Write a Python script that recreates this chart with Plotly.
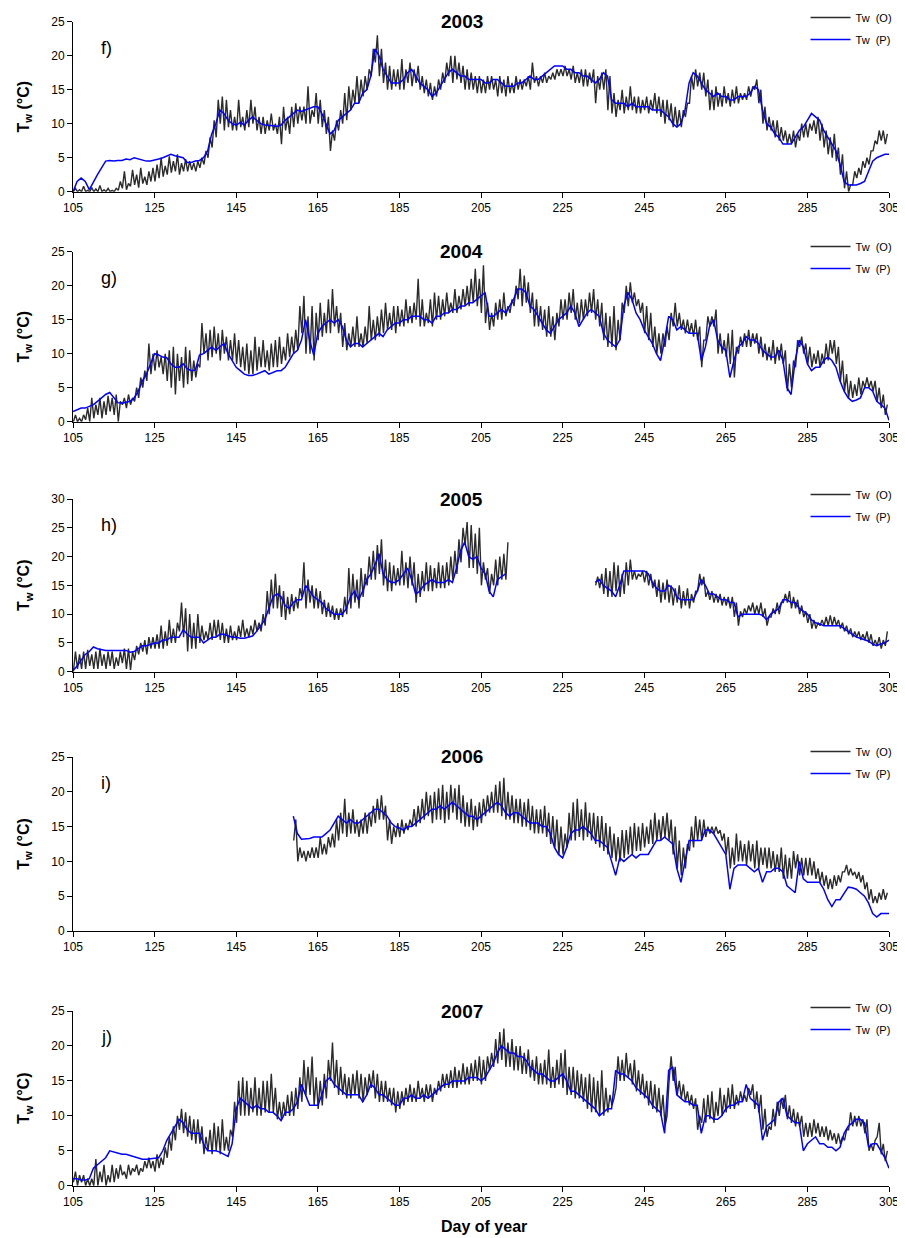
import plotly.graph_objects as go

# ---------------- data ----------------
YEARS = ["2003", "2004", "2005", "2006", "2007"]
PANEL_LABELS = ["f)", "g)", "h)", "i)", "j)"]
X_TICKS = [105, 125, 145, 165, 185, 205, 225, 245, 265, 285, 305]
Y_TICKS_25 = [0, 5, 10, 15, 20, 25]
Y_TICKS_30 = [0, 5, 10, 15, 20, 25, 30]
SERIES_NAMES = ["Tw\u00a0\u00a0(O)", "Tw\u00a0\u00a0(P)"]

# observed: daily minimum / maximum, predicted: daily values
obs_lo_2003 = [0,0,0,0,0,0,0,0,0,0,
               0,0.2,0.5,0.3,0.8,1,0.6,1.2,1,1.5,
               1.5,2,2.2,2.5,2.8,3,2.5,3,3,3.2,
               3,3.5,4,5,6.5,8,10,9,9.5,9,
               9,9.5,9,9.5,10,9,8.5,8.5,9,9,
               8.5,7,9,8.5,9.5,10,10.5,10,10,11,
               10,9.5,8.5,6,7.5,9,10,10.5,12,13,
               13,14,15,17,19,17,16,15,15,15.5,
               15,15,16,15.5,16,15,14.5,14,13.5,14,
               15,16,17,16,16.5,16,15,15,15,14.5,
               14.5,14.5,15,15,14,14.5,14,14.5,14.5,15,
               15,15.5,15,16,15.5,16,16,16.5,16.5,17,
               17,17,16.5,16,16,15.5,15.5,16,13,15,
               15,12,11.5,11,12,11.5,12,12,11.5,11.5,
               12,11.5,12,11.5,11,10,10.5,9.5,9.5,9.5,
               11,13,15,15.5,15,14,12,12,12.5,12.5,
               13,12.5,13,13,13.5,13.5,14,15,13,10,
               9,9,8,7.5,7.5,7,7,6.5,7.5,8,
               8,9,8.5,7.5,6.5,5.5,5,4.5,2.5,0.5,
               0,1,2,2.5,3.5,4,6,7,7.5,7]
obs_hi_2003 = [0.5,0.3,0.8,0.2,0.6,0.4,0.9,0.3,0.5,0.2,
               0.5,1.5,3,1.2,3.2,2.5,3.5,2.2,3,3.5,
               4,5,3.8,5.2,4.5,5.5,4.2,4.8,4.5,4.2,
               4.5,5,6,8,10.5,13.5,14,13.5,12,11,
               13.5,11,12,13.5,12.5,11,11,10.5,11.5,10,
               11,12.5,11,12.5,13,12.5,12.5,15.5,12,14.5,
               13.5,12,11,9,10.5,12,14.5,15.5,15,17,
               16.5,17,18,21,23,21,19,18.5,18,18,
               19.5,18,19,18,18.5,17,16.5,16,15.5,16.5,
               17.5,19,20,20,19,18.5,18,17.5,17,17,
               16.5,17,17,16.5,17,16.5,17,16,17,16.5,
               16.5,17,19,17,17,17.5,17,17.5,18,18,
               18.5,18,18.5,17.5,18,18,17.5,18,17,17.5,
               18,17,14.5,13.5,15,14,15.5,14,14,13.5,
               14,13.5,14.5,14,13.5,13.5,13,12.5,12,12,
               13,17,18,17.5,17.5,16.5,15,15.5,14.5,15.5,
               14.5,15,15.5,14.5,14.5,15.5,15.5,16.5,15,12.5,
               11,10.5,10.5,9.5,9,8.5,9,8.5,10,10,
               10,10.5,11,10,9,8,8.5,6.5,5.5,3,
               1,3,3.5,4.5,5,6,7.5,9,9,8.5]
pred_2003 = [0,1.5,2,1.5,0.3,1.5,2.5,3.5,4.5,4.6,
             4.5,4.6,4.6,4.8,4.7,5,4.8,4.6,4.5,4.5,
             4.6,4.8,5,5.3,5.5,5.3,5.2,5,4.3,4.3,
             4.5,4.6,5,6,8.5,10,12,11.5,10.5,10,
             9.8,10.2,9.8,10.5,11,10.5,10,9.8,9.8,9.7,
             9.6,9.8,10.5,11,11.5,12,11.8,12,12.2,12.5,
             12.5,11.5,10,8.5,9,10.5,11,11.5,12,13,
             13,14.5,15,17,21,20,18,17,16,16,
             16,16.5,17.5,18,17,16,15.5,15,14,14.5,
             15.5,16.5,17.5,18,17.5,17,17,16.5,16.5,16.5,
             16.5,16,16,16.5,16.5,16,15.5,15.5,15.5,16,
             16,16.5,17,16.5,16.5,17,17.5,18,18.5,18.5,
             18.5,18,18,17.5,17.5,17,17,16.5,16,16.5,
             17.5,17,13.5,13,13,13,12.5,13,12.5,12.5,
             12.5,12.5,12,12,12,11.5,11,10,9.5,10,
             12,16,17.5,17,16,15,14.5,14,14.5,14,
             14,13.5,13.5,14,14,14,14.5,15.5,15,12,
             10,9.5,8.5,8,7,7,7,8,9,9.5,
             10.5,11.5,11,10.5,9,8,7,6,4,1.5,
             1,1,1,1.2,1.5,3,4.5,5,5.2,5.5,5.5]

obs_lo_2004 = [0,0,0,0.3,0,0.5,1,0.5,1,1.5,
               1,0,2.5,2,2.5,3,3.5,5,6,7,
               7.5,8,7,6,5,4,6,5,5.5,6,
               6.5,8,10,9,9.5,10,9,10,9,9,
               8.5,8,7.5,7,7,7.5,8,8,7.5,8,
               8,8.5,9,9.5,10,10.5,13,10,10,9,
               12,12.5,13,13,14,13,11,10.5,11,11,
               11,11,11.5,12,12,12.5,13,13.5,13.5,13,
               14,14,14.5,14.5,15,14,14,14.5,14,15,
               15,15.5,16,16,16,16.5,17,17,17.5,17,
               16,14.5,13.5,14,15,15,15.5,16,17,18,
               17,17.5,16,14,14,13.5,12.5,12.5,12,14,
               15,15,16,15,14.5,15,15.5,16,15,14,
               12,11,11,10.5,12,16,17,17.5,17,16,
               13,12,11,10,10,11,12,14,14,13.5,
               13,13,12.5,12,8,12,14,14,10,10,
               9.5,8.5,6.5,10,11,11,11,11.5,10,9.5,
               9,9,8.5,9,8.5,4.5,5,8,11,10,
               8.5,8,8.5,8,8.5,9,10,8.5,6,4.5,
               3.5,3.5,3.8,4,5,5,4.5,3,2,1]
obs_hi_2004 = [1,0.5,1,2,3.5,2.5,3.5,3,3.8,3.5,
               4,3,3.5,4,3.5,5,6.5,7.5,11.5,10,
               10.5,9.5,10,10.5,11,10,9.5,11,10.5,9,
               8.5,14.5,13,13.5,14,13,13.5,12.5,12,13,
               12,11,11.5,10.5,12.5,11,12,10.5,11.5,12,
               12.5,11,13,12.5,13.5,17,18.5,15.5,17,16,
               17.5,16,18,19.5,17,16,14.5,13,14,15.5,
               13,14,17,15,15.5,16.5,17.5,16,17,17,
               16.5,18,17,17.5,21,18,16,18,19,18.5,
               18,19,17.5,19.5,18.5,19.5,20,21,22.5,21,
               23,17.5,16,17.5,18,19,17,18,20,22.5,
               21.5,20.5,19,18,17,16.5,17,15.5,16,18,
               18,19,19.5,17.5,18,18,19,19.5,18,17.5,
               16,15.5,17,15,17.5,20,20.5,19,18,17.5,
               17,16,14,13,13,14,16,17.5,16,15,
               15,14.5,15,14,12,15.5,15.5,16.5,13,12,
               13,13.5,11,12.5,13,13.5,13,13,12.5,11.5,
               11,12,11,11.5,10.5,8.5,9,12,12.5,11.5,
               11,10,10.5,10,11.5,12,12,11,9,7,
               6,5.5,6.5,6,6.5,6,6,5,4,2.5]
pred_2004 = [1.5,1.7,2,2,2.2,2.5,3,3.5,4,4.3,
             3.5,2.8,2.7,2.8,3,3.5,4.5,6,7,8.5,
             10,9.8,9.5,9.4,8.5,8,8,8.5,7.8,7.5,
             7.6,9.8,10,10.5,11,10.5,11,11.5,10,9,
             8,7.5,7,6.8,6.8,7,7.2,7.5,7,7.2,
             7.5,7.5,8,9,10,10.5,12,15,12,9.8,
             13,14,14.5,15,14.5,15,14,12,11,11.5,
             11.5,11,11.5,12,12.5,13,12.5,13.5,14,14.5,
             14.5,15,15,15.5,15.5,15.5,15,15,14.5,15.5,
             15.5,16,16,16.5,16.5,17,17,17.5,17.5,18,
             18.5,19,15.5,15.5,16,16.5,16,17,18,19.5,
             19.5,19,17,16.5,15.5,14.5,13.5,13,14,15,
             15.5,16,17,16,14,15,16,16.5,16,15.5,
             13,12,11.5,11,12,17,19,18,16,15,
             13.5,12.5,11.5,10,9,12,15.5,15,13.5,14,
             13.5,13,13,13,9,11,14,15,12,11,
             10.5,6.5,9,11,11.5,12.5,12,12,11.5,10.5,
             10,9.5,9.5,10.5,9,5,4,9,12,11,
             8.5,7.5,8,8,9,9.5,9,8,6,4.5,
             3.5,3,3.2,3.5,5,5,4.5,3,2.5,2,0.2]

# 2005: record interrupted between day 211 and day 233
obs_lo_2005a = [0,0.5,0.5,0.5,1,0.5,0.5,1,0.5,1,
                0.5,1,1.5,0.5,0.3,2,3,3.5,3,4,
                4,4,4,4.5,5,5,7,6,3.5,4,
                4,5,5.5,5.5,5.5,6,5.5,5,5,5.5,
                5.5,6,6,6,6.5,7,7,8,10,11,
                11,9.5,9,10,10.5,11,13,11,12,11,
                11,10,9.5,9.5,9,9,9.5,10,11,12,
                11,13,15,16,16,17,15,14,14,15,
                15,15,14.5,15,12,13,14,14,14,14.5,
                14.5,14.5,15,16,17,19,22,18,18,17,
                15,16,13.5,15,15,16,16]
obs_hi_2005a = [3.5,3,3.5,3.8,3,3.5,4,3,3.5,3.5,
                2.5,3.5,4,4,3.5,4.5,5,5.5,6,6,
                6.5,8,7,9,7.5,8.5,12,11,10,8.5,
                10,8,7,8.5,9,9,8.5,7.5,8,7,
                8,9,7.5,8,9,8.5,10,14,16,17,
                15,14,13,13.5,13,14.5,19,16,15,14.5,
                14,12.5,12,11.5,11,11,13,18,17,16,
                18,17,20,21,22,23,19.5,19,18.5,18,
                21,19,20,19,17,17.5,19,18.5,18,19,
                18.5,19,20,21,23,25,26,25.5,24,25,
                19,18,17,19.5,20,20.5,22.5]
obs_lo_2005b = [15,14.5,
                13.5,13,13,14,13,13.5,15,16,16,16.5,
                15.5,15,14.5,13,12,12.5,12,11.5,12,11,
                11.5,11,12,14,15,13,12.5,12,12,11.5,
                11.5,11,9.5,8,9.5,10,10.5,10,10,9.5,
                8,9.5,10,10,12,12,11,11,10,9.5,
                8.5,7.5,7.5,8,8,8,8,8,7.5,7,
                6.5,6,6,5.5,5.5,5,4.5,4.5,4,4.5]
obs_hi_2005b = [16.5,17,
                18,17.5,19,18.5,17,19,19.5,17.5,17,17.5,
                17.5,17,16,16,15.5,16,15,14.5,15,14,
                14.5,13.5,14,17,16.5,14,14,13.5,13.5,13,
                13,13,12,10.5,11,11.5,12,11.5,12,11,
                9.5,11,12,12,13.5,14,13,12.5,11.5,10.5,
                10,9,8.5,9,9.5,9.8,9.5,9,8.5,8,
                7.5,7,7,6.5,7,6.5,5.5,6,5.5,7]
pred_2005a = [0.2,1,2,3,3.5,4.3,4,3.8,3.7,3.7,
              3.7,3.8,3.8,3.7,3.4,3.5,4,4.5,4.5,4.8,
              5,5,5.5,5.5,6,6,6,7.3,6.5,6,
              6,6,5,5.5,6,6,6.5,6.5,6.2,6,
              6,5.8,5.8,6,6.2,7,8,9,11,13,
              13.5,13,11.5,11,12,12.5,12.5,15,14,13,
              12.5,12,11,10.5,10,10,10,11,13,14,
              12.5,14,16,17,18.5,20.5,17,16,15.5,15.5,
              16,17,18,16,13.5,14,15,15.5,16,15.5,
              15.5,15.5,16,15.5,18,21,22.5,20,19.5,20,
              18,17,14,13,16,16.5,17]
pred_2005b = [15.5,16,15,14.5,14,13,15,17.5,17.5,17.5,17.5,17.5,
              17.5,17,15.5,14.5,14,14,15,14.5,13,12.5,
              12.5,12.5,12.5,14,16,15,13.5,13.5,13,12.5,
              12.5,12,12,9.5,10,10,10,10,10,9.8,
              9,10,10.5,11,12.5,12.5,12,12,11,10.5,
              10,9,8.5,8.3,8,8,8,8,8,7.5,
              7,6.5,6,5.8,5.5,5.3,4.8,4.5,4.8,5,5.5]

# 2006: record starts at day 159
obs_lo_2006 = [13,10,10.5,10,10.5,10.5,
               10.5,11,11,12,12,13,14,13.5,14,14,
               13.5,14,14,15,15.5,16,16,13,12.5,13.5,
               13.5,14,14.5,15,15,15.5,16,16.5,15.5,16,
               16,15.5,16,17,16,15.5,15,15,14.5,15,
               15.5,16.5,17,17,17,16.5,16,16,15.5,15.5,
               15,15,14.5,14,14,14,13.5,12.5,12,11,
               11,12,13,13,13.5,13,13.5,13,12.5,12,
               11.5,11,10.5,10,10,10.5,11,11,11.5,11.5,
               12,12.5,12.5,13,13,13.5,13,11,9,8,
               9,11.5,12,13,13,13.5,14,14,14,13,
               11,9,9.5,10,10,9.5,10,9,9,9.5,
               9,9,8.5,8.5,7.5,7.5,7.5,9,8,8,
               8,8,7.5,7,6.5,6,6,6.5,7,8.5,
               8,8,7.5,7,6,4.5,4,4,4.5,4.5]
obs_hi_2006 = [16,12,11.5,11.5,12,12,
               13.5,12.5,13.5,14,16,17,19,17,17.5,16,
               16,17,17,18,19,19.5,18,16,15,15.5,
               16,15.5,16,17.5,18,19,20,19.5,20,20.5,
               21,20,21,20.5,21,19.5,18.5,19,18,18.5,
               19,19.5,20,21,21.5,22,20,19.5,19,19,
               18.5,19,18,17.5,17.5,18,17,16.5,16,15,
               14,17,18.5,19,17.5,18.5,17,17,16.5,16.5,
               15.5,15,14,13.5,14.5,14.5,15,15.5,15,15.5,
               15,16,17,16,16.5,17,16,15,13,12,
               12.5,15,16.5,16,16,15,15,15,14.5,14,
               13.5,12,14,13,12.5,13,12.5,13,12,12,
               12,11.5,11,12,11,10.5,11.5,11,10.5,10.5,
               10.5,10,9,8.5,8,7.5,8,8,8.5,9.5,
               9,8.5,8.5,8,7,6,5,5.5,6,5.5]
pred_2006 = [16.5,14,13.2,13.2,13.3,13.5,
             13.5,13.5,14,14.5,15.5,16.5,16,15.5,16,15.5,
             15.5,16,16.5,17,17.5,17.5,17,16.5,15.5,15,
             14.8,14.5,15,15,15.5,16,16.5,17,17.5,17.5,
             18,17.5,18,18.5,18,17.5,17,16.5,16.5,16,
             16.5,17,17.5,18,18.5,18,17,16.5,17,17,
             16.5,16,15.5,15.5,15.5,15,15,14,12,11,
             10.5,12,14,14.5,14.5,15,14.5,14,13,13,
             12.5,12,10,8,10.5,10,10.5,11,10.5,11,
             11,11,12,13,13,13.5,13,12.5,9,7,
             10,13,13,13,13,14.5,14.5,14,13,12,
             11,6,9,9.5,9.5,9.5,9,8.5,9,7,
             8.5,8.5,9,9,8.5,6.5,6,5.5,10,7.5,
             7,7,7,7,6,4.5,3.5,4.5,4.5,5.5,
             6.3,6.2,6,5.5,5,4,2.5,2,2.5,2.5,2.5]

obs_lo_2007 = [0.5,0,0.5,0,0,0,0,0.5,0,0.5,
               0.5,1,1.5,1,1.5,2,1.5,2,2.5,2.5,
               2,2.5,3,4,5,6.5,8,7.5,7,6.5,
               6,6,4.5,5,4.5,5,4.5,5,5,7,
               9,10,10,10,10.5,10,10,10.5,10.5,10.5,
               9.5,9.5,10,10,10,11,12,13,13,11.5,
               11,11.5,12.5,15,14,13,13,12.5,12.5,13,
               12.5,12,13,14,12.5,12,12,12,11.5,10.5,
               11,11.5,12,12,12,12.5,12,12.5,12,13,
               13.5,14,14,14,14,14.5,14.5,14.5,15,15,
               14.5,15,16.5,17,17.5,18,17,17,16.5,16.5,
               16,16,15.5,15,14.5,14.5,14.5,14,14,14.5,
               14,13,13,12.5,12.5,12,11,10.5,10.5,10,
               10,10.5,11.5,14,15,15,15.5,14.5,13.5,13,
               12.5,11.5,11,10.5,10,8.5,15,15,13,12.5,
               12,11.5,11,8,9,9,9.5,9,10,10,
               10.5,11,11,11.5,12,12,13,11,10.5,8,
               7,8,8.5,10,11,9.5,9,8.5,8.5,7,
               7,7,7.5,7,7,6.5,6.5,6,6,6.5,
               8,8.5,8.5,8.5,7.5,5,5,7,4.5,3.5]
obs_hi_2007 = [2,1.5,1.5,1,1,3.8,2,3,1.5,3,
               2.5,3,2,3,2.5,3,2.5,3.5,4,3.5,
               4.5,4,5.5,7,8.5,10,11,10.5,10,9.5,
               9.5,8.5,7,8,9,8.5,9.5,7,8,12,
               15,15.5,15,14,15.5,14,15,15,16,14,
               12,12,13,13.5,14,15.5,18,17,18.5,15.5,
               15,16,18,20.5,18,17,16,15.5,16,16.5,
               16,15.5,16,16.5,16,15,15,14,14,13.5,
               13.5,14,14.5,14,15,14,14.5,14.5,14,15,
               16,16,16.5,17,16.5,17.5,17,17.5,18,18.5,
               18,18.5,19,21,22,22.5,20.5,21,20,20,
               19,19.5,18,18.5,17.5,18,19.5,17,18,19,
               19.5,17,17,16.5,16,15.5,16,15.5,15,16.5,
               14,13,12.5,18.5,18,19,17.5,18,16.5,16,
               15,15,14.5,14,13,10,18.5,17,15,14.5,
               13.5,13,12.5,10,12.5,13,13.5,12,14,13,
               14,14.5,13,13.5,13,14,14.5,13.5,13,11,
               8.5,11,12,12.5,13,11.5,11,10.5,10,9,
               9,9.5,9,8.5,8.5,8,7.5,7.5,7,8,
               10.5,10,10,9.5,9.5,6,6.5,9,6,5]
pred_2007 = [1,1,0.8,0.8,1,2.5,3,3.5,4,5,
             4.8,4.6,4.5,4.5,4.3,4.2,4,3.8,3.8,3.9,
             4,4,5,6.5,7.5,8.5,9.5,9,8,7.5,
             7.5,7.5,6,5,5,5,4.8,4.5,4.2,6,
             11,12.5,12,11.5,11,11.5,11,11,10.5,10.5,
             10,9.3,10.5,10.5,11,12,14.5,13,11.5,11.5,
             11.5,13,15,15.5,14.5,14,13.5,13,13,13,
             13,12,13,14.5,14,13,13,12.5,12,11.5,
             11.5,12.5,12.5,13,12.5,12.5,13,12.5,13,13.5,
             14,14.5,14.5,15,15,15,15,15.5,15.5,15.5,
             15,15.5,16.5,17.5,19,20,19.5,19,19,18.5,
             18.5,18,17,16.5,16,16,15.5,15,15,15.5,
             16,15,13.5,13.5,13,12.5,12,11.5,11,10,
             10.5,11,11,16.5,16,16,15.5,15,14,13.5,
             13,12.5,11.5,11,10.5,7.5,16.5,17,13,12.5,
             12,12,11.5,11.5,7.5,10,10,9.5,9.5,10,
             11,11.5,11.5,12,12,14.5,12.5,12,11.5,6.5,
             8.5,9,9.5,12,12.5,10,9.5,9,9,5,
             6,6.5,7,6,6,5.5,5.5,5,5.5,7.5,
             8.5,9,9.5,9.5,9,5.5,6,6,5,4,2.5]

# (start day, daily min list, daily max list) segments per panel
OBS = [
    [(105, obs_lo_2003, obs_hi_2003)],
    [(105, obs_lo_2004, obs_hi_2004)],
    [(105, obs_lo_2005a, obs_hi_2005a), (233, obs_lo_2005b, obs_hi_2005b)],
    [(159, obs_lo_2006, obs_hi_2006)],
    [(105, obs_lo_2007, obs_hi_2007)],
]
PRED = [
    [(105, pred_2003)],
    [(105, pred_2004)],
    [(105, pred_2005a), (233, pred_2005b)],
    [(159, pred_2006)],
    [(105, pred_2007)],
]
Y_MAX = [25, 25, 30, 25, 25]


def obs_xy(segments):
    xs, ys = [], []
    for start, lo, hi in segments:
        for i, (a, b) in enumerate(zip(lo, hi)):
            d = start + i
            xs += [d + 0.1, d + 0.6]
            ys += [a, b]
        xs.append(None)
        ys.append(None)
    return xs, ys


def pred_xy(segments):
    xs, ys = [], []
    for start, vals in segments:
        for i, v in enumerate(vals):
            xs.append(start + i)
            ys.append(v)
        xs.append(None)
        ys.append(None)
    return xs, ys


# ---------------- layout geometry ----------------
# page body has an 8px margin, so the figure is offset by 8px in the window
OFF = 8
W, H = 905 - OFF, 1230
PLOT_L, PLOT_R = 73.3 - OFF, 889.5 - OFF
ML, MR = PLOT_L, W - PLOT_R
PW = PLOT_R - PLOT_L
# panel top (max tick) / bottom (0) positions in window pixels
PANEL_PX = [(21.7, 191.7), (251.7, 421.7), (499, 671.7), (757, 931), (1011, 1185.7)]
LEGEND_TOP_PX = [3, 232, 480, 737, 993]


def px_x(xw):
    return (xw - OFF - PLOT_L) / PW


def px_y(yw):
    return 1 - (yw - OFF) / H


FONT = "Liberation Sans, Arial, sans-serif"
fig = go.Figure()
layout = dict(
    width=W, height=H,
    margin=dict(l=ML, r=MR, t=0, b=0, autoexpand=False),
    paper_bgcolor="white", plot_bgcolor="white",
    font=dict(family=FONT, color="black", size=12),
    showlegend=True,
)
annotations = []

for k in range(5):
    n = "" if k == 0 else str(k + 1)
    top, bot = PANEL_PX[k]
    dom = [px_y(bot), px_y(top)]
    xo, yo = obs_xy(OBS[k])
    xp, yp = pred_xy(PRED[k])
    leg = "legend" + n
    fig.add_trace(go.Scatter(
        x=xo, y=yo, mode="lines", name=SERIES_NAMES[0],
        line=dict(color="#2b2b2b", width=1.4),
        xaxis="x" + n, yaxis="y" + n, legend=leg, legendgroup="o" + n,
        connectgaps=False, hoverinfo="skip"))
    fig.add_trace(go.Scatter(
        x=xp, y=yp, mode="lines", name=SERIES_NAMES[1],
        line=dict(color="#0000ff", width=1.5),
        xaxis="x" + n, yaxis="y" + n, legend=leg, legendgroup="p" + n,
        connectgaps=False, hoverinfo="skip"))

    layout["xaxis" + n] = dict(
        domain=[0, 1], anchor="y" + n, range=[105, 305],
        tickmode="array", tickvals=X_TICKS,
        ticks="outside", ticklen=5, tickwidth=1, tickcolor="black",
        showline=True, linecolor="black", linewidth=1,
        showgrid=False, zeroline=False,
        tickfont=dict(size=12, family=FONT, color="black"))
    yt = Y_TICKS_30 if Y_MAX[k] == 30 else Y_TICKS_25
    layout["yaxis" + n] = dict(
        domain=dom, anchor="x" + n, range=[0, Y_MAX[k]],
        tickmode="array", tickvals=yt,
        ticks="outside", ticklen=5, tickwidth=1, tickcolor="black",
        showline=True, linecolor="black", linewidth=1,
        showgrid=False, zeroline=False,
        tickfont=dict(size=12, family=FONT, color="black"))
    layout[leg] = dict(
        x=px_x(806), xanchor="left",
        y=px_y(LEGEND_TOP_PX[k]), yanchor="top",
        bgcolor="rgba(0,0,0,0)", borderwidth=0,
        font=dict(size=11, family=FONT, color="black"),
        tracegroupgap=3, itemwidth=40)

    # year title
    annotations.append(dict(
        text="<b>" + YEARS[k] + "</b>", xref="paper", yref="y" + n + " domain",
        x=px_x(462), y=1, xanchor="center", yanchor="middle",
        showarrow=False, font=dict(size=19, family=FONT, color="black")))
    # panel letter
    annotations.append(dict(
        text=PANEL_LABELS[k], xref="paper", yref="y" + n + " domain",
        x=px_x(99), y=1 - 26 / (bot - top),
        xanchor="left", yanchor="middle",
        showarrow=False, font=dict(size=18, family=FONT, color="black")))
    # y axis title
    annotations.append(dict(
        text="<b>T<sub>w</sub> (°C)</b>", xref="paper", yref="y" + n + " domain",
        x=px_x(25), y=0.5, xanchor="center", yanchor="middle",
        textangle=-90, showarrow=False,
        font=dict(size=16, family=FONT, color="black")))

annotations.append(dict(
    text="<b>Day of year</b>", xref="paper", yref="paper",
    x=px_x(484), y=px_y(1226), xanchor="center", yanchor="middle",
    showarrow=False, font=dict(size=16, family=FONT, color="black")))

layout["annotations"] = annotations
fig.update_layout(**layout)
fig.write_html("out.html")
